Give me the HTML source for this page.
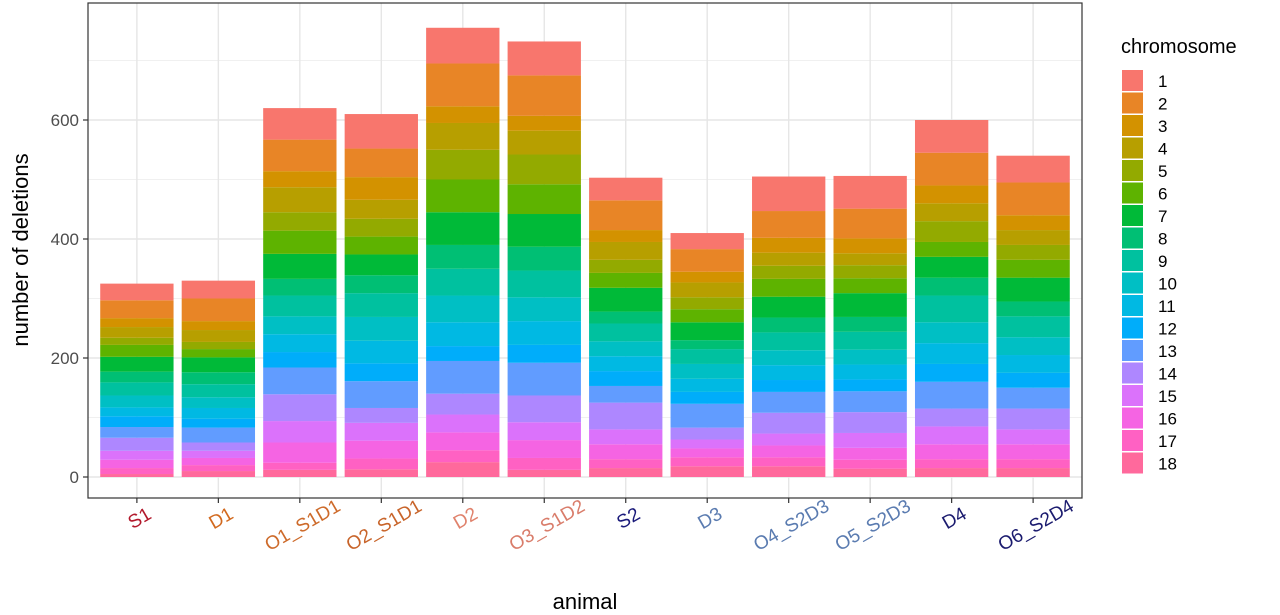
<!DOCTYPE html>
<html><head><meta charset="utf-8"><style>
html,body{margin:0;padding:0;background:#fff;}
svg{display:block;font-family:"Liberation Sans",Arial,sans-serif;}
</style></head><body>
<svg id="chart" width="1280" height="615" viewBox="0 0 1280 615"></svg>
<script>
const animals = ["S1","D1","O1_S1D1","O2_S1D1","D2","O3_S1D2","S2","D3","O4_S2D3","O5_S2D3","D4","O6_S2D4"];
const labelColors = ["#b2182b","#d2691e","#cd6a2a","#c8642a","#e0826c","#d97c6a","#1a1a7a","#5a7bb0","#5a7bb0","#5a7bb0","#1a1a6e","#1a1a6e"];
const chromosomes = ["1","2","3","4","5","6","7","8","9","10","11","12","13","14","15","16","17","18"];
const chromColors = ["#F8766D","#E88526","#D39200","#B79F00","#93AA00","#5EB300","#00BA38","#00BF74","#00C19F","#00BFC4","#00B9E3","#00ADFA","#619CFF","#AE87FF","#DB72FB","#F564E3","#FF61C3","#FF699C"];
const S1 = [28,30,15,18,12,20,25,18,22,20,15,18,18,22,15,14,10,5];
const D1 = [30,38,15,20,12,14,25,20,22,18,18,15,25,14,12,12,10,10];
const O1_S1D1 = [53,53,27,42,31,39,42,28,35,30,30,26,45,45,36,34,12,12];
const O2_S1D1 = [58,48,38,32,30,30,35,30,40,40,38,30,45,25,30,30,18,13];
const D2 = [60,72,28,45,50,55,55,40,45,45,40,25,55,35,30,30,20,25];
const O3_S1D2 = [57,68,25,40,50,50,55,40,45,40,40,30,55,45,30,30,20,12];
const S2 = [38,50,20,30,22,25,40,20,30,25,25,25,28,45,25,25,15,15];
const D3 = [27,38,18,25,20,22,30,15,25,25,22,20,40,20,15,15,15,18];
const O4_S2D3 = [58,45,25,22,22,30,35,25,30,25,25,20,35,35,20,20,15,18];
const O5_S2D3 = [55,50,25,20,22,25,40,25,30,25,25,20,35,35,25,20,15,14];
const D4 = [55,55,30,30,35,25,35,30,45,35,35,30,45,30,30,25,15,15];
const O6_S2D4 = [45,55,25,25,25,30,40,25,35,30,30,25,35,35,25,25,15,15];
const seriesByAnimal = [S1,D1,O1_S1D1,O2_S1D1,D2,O3_S1D2,S2,D3,O4_S2D3,O5_S2D3,D4,O6_S2D4];
const yTicks = [0,200,400,600];

const NS="http://www.w3.org/2000/svg";
const svg=document.getElementById('chart');
const PL=88,PR=1082,PT=3,PB=498;
const band=(PR-PL)/(animals.length+0.2);
function xC(i){return PL+band*(0.6+i);}
function yS(v){return 477-v*0.595;}
function mk(t,a,p){const e=document.createElementNS(NS,t);for(const k in a)e.setAttribute(k,a[k]);(p||svg).appendChild(e);return e;}

mk('rect',{x:PL,y:PT,width:PR-PL,height:PB-PT,fill:'#fff'});
for(let v=100;v<=700;v+=200){mk('line',{x1:PL,x2:PR,y1:yS(v),y2:yS(v),stroke:'#f0f0f0','stroke-width':1});}
yTicks.forEach(v=>{const g=mk('line',{x1:PL,x2:PR,y1:yS(v),y2:yS(v),stroke:'#e6e6e6','stroke-width':1.4});

});
animals.forEach((a,i)=>{const g=mk('line',{x1:xC(i),x2:xC(i),y1:PT,y2:PB,stroke:'#e6e6e6','stroke-width':1.4});

});

const bw=band*0.9;
animals.forEach((a,i)=>{
  const vals=seriesByAnimal[i];
  let cum=0;
  for(let k=vals.length-1;k>=0;k--){
    const y0=yS(cum),y1=yS(cum+vals[k]);
    const r=mk('rect',{x:xC(i)-bw/2,y:y1,width:bw,height:y0-y1,fill:chromColors[k]});
    
    
    cum+=vals[k];
  }
});
const border=mk('rect',{x:PL,y:PT,width:PR-PL,height:PB-PT,fill:'none',stroke:'#333','stroke-width':1.2});



yTicks.forEach(v=>{
  mk('line',{x1:PL-5,x2:PL,y1:yS(v),y2:yS(v),stroke:'#333','stroke-width':1.2});
  const t=mk('text',{x:PL-9,y:yS(v)+6,'text-anchor':'end','font-size':17,fill:'#4d4d4d'});
  t.textContent=v;
  
  
});
animals.forEach((a,i)=>{
  mk('line',{x1:xC(i),x2:xC(i),y1:PB,y2:PB+5,stroke:'#333','stroke-width':1.2});
  const cy = PB + 18 + a.length*1.4;
  const t=mk('text',{x:0,y:0,'text-anchor':'middle','dominant-baseline':'central','font-size':19,fill:labelColors[i],transform:`translate(${xC(i)+3},${cy}) rotate(-30)`});
  t.textContent=a;
  
  
});
const xt=mk('text',{x:585,y:609,'text-anchor':'middle','font-size':22,fill:'#000'});
xt.textContent='animal';


const yt=mk('text',{x:0,y:0,'text-anchor':'middle','font-size':22,fill:'#000',transform:'translate(28,250) rotate(-90)'});
yt.textContent='number of deletions';



const lt=mk('text',{x:1121,y:53,'font-size':20,fill:'#000'});
lt.textContent='chromosome';


chromosomes.forEach((c,k)=>{
  const y=70+k*22.5;
  const r=mk('rect',{x:1122,y:y,width:21,height:21,fill:chromColors[k]});
  
  
  const t=mk('text',{x:1158,y:y+17,'font-size':17,fill:'#000'});
  t.textContent=c;
  
  
});
</script>
</body></html>
